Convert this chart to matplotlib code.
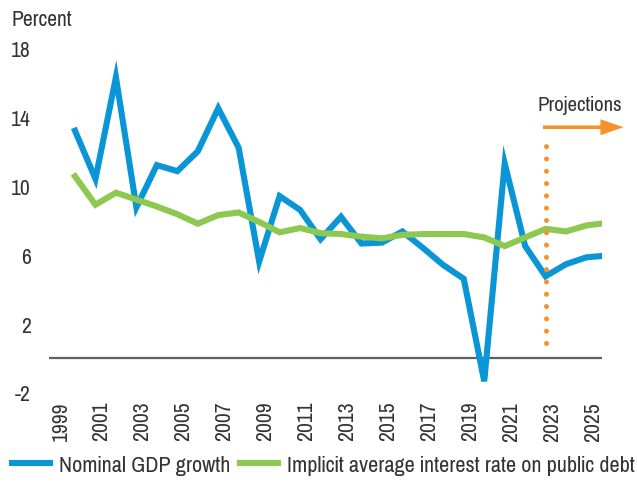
import matplotlib
matplotlib.use("Agg")
import matplotlib.pyplot as plt
from matplotlib import font_manager
from matplotlib.lines import Line2D

years = list(range(2000, 2027))
gdp_growth = [13.2, 10.4, 16.3, 8.75, 11.2, 10.85, 12.0, 14.5, 12.2, 5.6,
              9.4, 8.6, 6.9, 8.2, 6.65, 6.7, 7.35, 6.4, 5.4, 4.6,
              -1.35, 11.3, 6.5, 4.75, 5.45, 5.85, 5.95]
interest_rate = [10.55, 8.9, 9.6, 9.2, 8.8, 8.35, 7.8, 8.3, 8.45, 7.9,
                 7.3, 7.55, 7.25, 7.2, 7.05, 6.95, 7.15, 7.2, 7.2, 7.2,
                 7.0, 6.5, 7.0, 7.5, 7.35, 7.7, 7.85]
tick_years = list(range(1999, 2026, 2))
y_ticks = [-2, 2, 6, 10, 14, 18]
projection_year = 2023
series_labels = ["Nominal GDP growth", "Implicit average interest rate on public debt"]

names = {f.name for f in font_manager.fontManager.ttflist}
prefs = ["Liberation Sans Narrow", "Arial Narrow", "Pragati Narrow", "Archivo Narrow",
         "Roboto Condensed", "PT Sans Narrow", "Fira Sans Condensed", "Liberation Sans"]
fam = next(f for f in prefs if f in names)
plt.rcParams['font.family'] = [fam, 'DejaVu Sans']

BLUE = "#0A96D6"
GREEN = "#8DC850"
ORANGE = "#F7922A"
TXT = "#333333"

fig = plt.figure(figsize=(6.37, 4.85), dpi=100)
renderer = fig.canvas.get_renderer()


def fit_size(s, target_px):
    t = fig.text(0, 0, s, fontsize=10)
    w = t.get_window_extent(renderer).width
    t.remove()
    return 10 * target_px / w


fs = fit_size(series_labels[0], 171)
fs_small = fit_size("Percent", 61)
fs_proj = fit_size("Projections", 85)

ax = fig.add_axes([49/637, 1-393.5/485, (602-49)/637, (393.5-49)/485])

ax.plot(years, gdp_growth, color=BLUE, lw=4.4, solid_joinstyle='miter', zorder=3)
ax.plot(years, interest_rate, color=GREEN, lw=4.4, solid_joinstyle='miter', zorder=4)
ax.axhline(0, color="#606060", lw=1.6, zorder=2)

ax.plot([projection_year, projection_year], [0.9, 12.3], color=ORANGE, lw=3.6,
        linestyle=(0, (0.01, 2.45)), dash_capstyle='round', zorder=5, clip_on=False)
ax.annotate("", xy=(2026.8, 13.4), xytext=(2022.87, 13.4),
            arrowprops=dict(arrowstyle="simple,head_length=1.65,head_width=1.15,tail_width=0.26",
                            color=ORANGE, lw=0, shrinkA=0, shrinkB=0, mutation_scale=10),
            annotation_clip=False, zorder=5)
ax.text(2024.68, 14.74, "Projections", fontsize=fs_proj, color=TXT, ha='center', va='center')

ax.set_xlim(2000 - (75-49)/20.46, 2026 + (602-607)/20.46)
ax.set_ylim(-2, 18)
ax.set_yticks(y_ticks)
ax.set_yticklabels([str(v) for v in y_ticks], fontsize=fs_small, color=TXT)
ax.set_xticks([y + 0.3 for y in tick_years])
ax.set_xticklabels([str(y) for y in tick_years], rotation=90, fontsize=fs_small, color=TXT)
ax.tick_params(axis='y', length=0, pad=13)
ax.tick_params(axis='x', length=0, pad=6)
for s in ax.spines.values():
    s.set_visible(False)

fig.text(12/637, 1-20/485, "Percent", fontsize=fs_small, color=TXT, ha='left', va='center')

em = fs * 100 / 72
handles = [Line2D([], [], color=BLUE, lw=4.4), Line2D([], [], color=GREEN, lw=4.4)]
fig.legend(handles, series_labels,
           loc='center left', bbox_to_anchor=(12/637, 1-466/485), ncol=2, frameon=False,
           fontsize=fs, handlelength=38/em, handletextpad=9/em, columnspacing=10/em,
           borderpad=0, borderaxespad=0, labelcolor=TXT)

fig.savefig("out.png", dpi=100)
